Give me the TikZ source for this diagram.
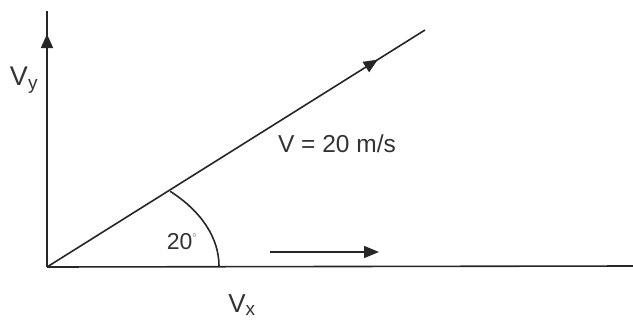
\documentclass[tikz,border=0pt]{standalone}
\usepackage{fontspec}
\setmainfont{Liberation Sans}
\usetikzlibrary{arrows.meta,decorations.markings}
\begin{document}
\begin{tikzpicture}[x=1pt,y=-1pt,
  axisline/.style={line width=1.6pt,black!85},
  midtip/.style={postaction={decorate},decoration={markings,
    mark=at position #1 with {\arrow{Triangle[length=14pt,width=12pt]}}}},
  lbl/.style={inner sep=0pt,font=\fontsize{24}{26}\selectfont,text=black!80}
]
\useasboundingbox (0,0) rectangle (633,322);
\coordinate (O) at (47,267);
\coordinate (ytop) at (47,11);
\coordinate (xend) at (634,266);
\coordinate (vend) at (425,30);
\coordinate (hs) at (270,252);
\coordinate (he) at (379,252);
% axes
\draw[axisline,midtip=0.91] (O) -- (ytop);
\draw[axisline] (O) -- (xend);
% velocity vector
\draw[axisline,midtip=0.875] (O) -- (vend);
% angle arc
\draw[axisline] (219,266) arc[start angle=0,end angle=-44.3,x radius=172,y radius=107];
% horizontal arrow
\draw[axisline,-{Triangle[length=15pt,width=12pt]}] (hs) -- (he);
% labels
\node[lbl,font=\fontsize{27}{29}\selectfont] (vy) at (24,80) {V\textsubscript{\fontsize{19}{20}\selectfont y}};
\node[lbl,font=\fontsize{26}{28}\selectfont] (vx) at (242,305) {V\textsubscript{\fontsize{19}{20}\selectfont x}};
\node[lbl,font=\fontsize{23}{25}\selectfont] (ang) at (182,242) {20\raisebox{8pt}{\fontsize{12}{12}\selectfont$^\circ$}};
\node[lbl,font=\fontsize{24.5}{26}\selectfont] (vlab) at (337,144) {V = 20 m/s};
\end{tikzpicture}
\end{document}
